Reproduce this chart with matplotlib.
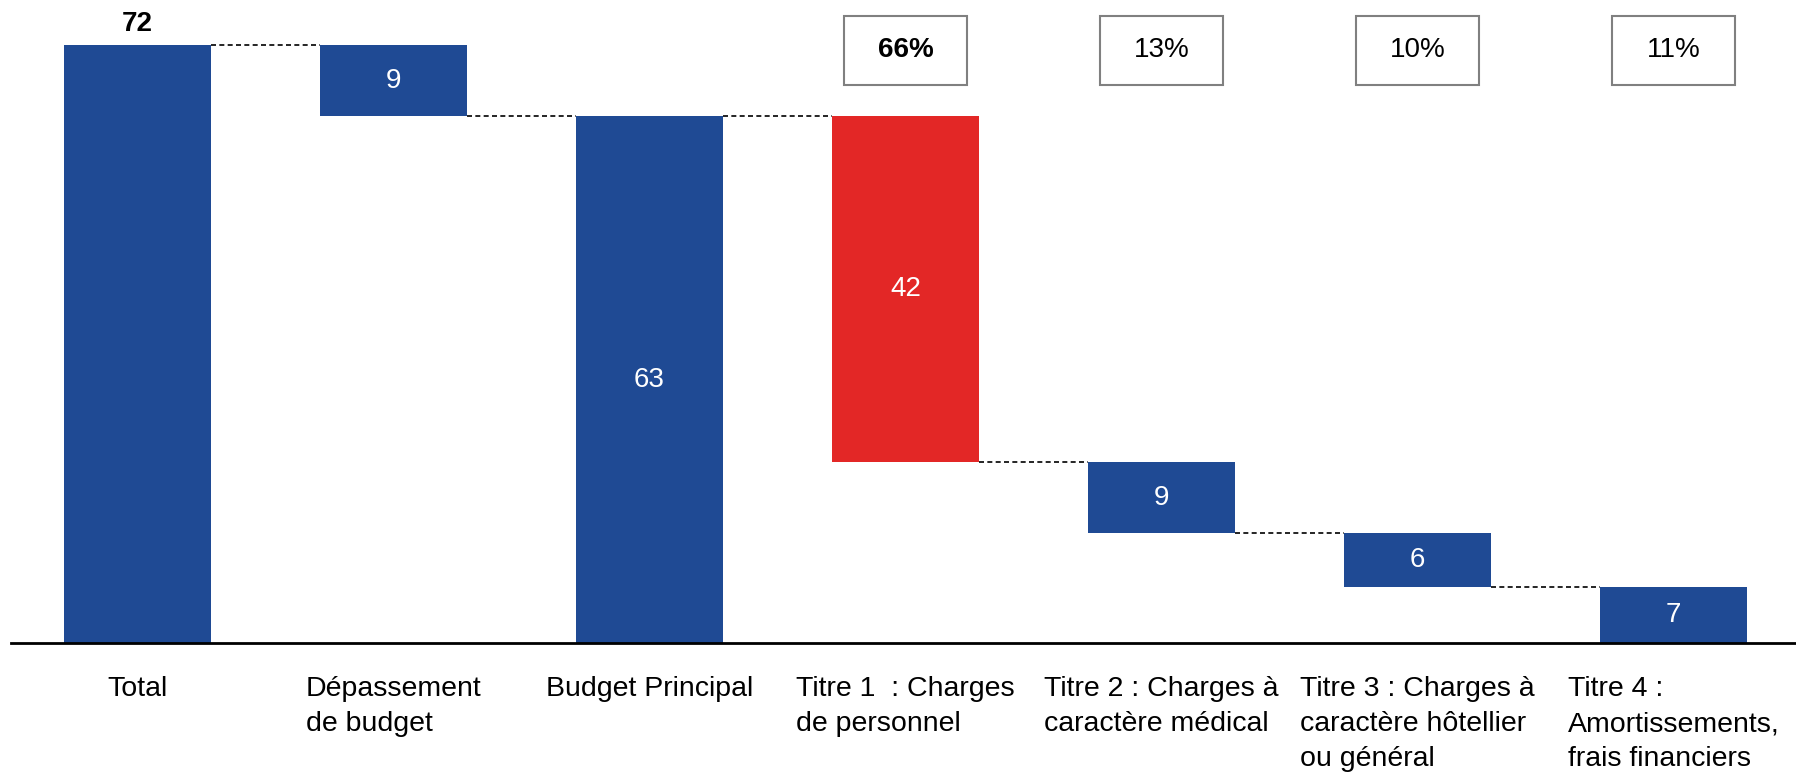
import matplotlib
matplotlib.use("Agg")
from matplotlib import pyplot as plt
from matplotlib.patches import Rectangle

plt.rcParams['font.family'] = ['Liberation Sans', 'DejaVu Sans']

categories = ["Total", "Dépassement\nde budget", "Budget Principal",
              "Titre 1  : Charges\nde personnel", "Titre 2 : Charges à\ncaractère médical",
              "Titre 3 : Charges à\ncaractère hôtellier\nou général",
              "Titre 4 :\nAmortissements,\nfrais financiers"]
# bar heights
values = [72.0, 8.6, 63.4, 41.6, 8.6, 6.4, 6.8]
kinds = ["total", "down", "total", "down", "down", "down", "down"]
shares = [66, 13, 10, 11]  # % of Budget Principal, for Titre 1..4

blue = "#1F4A94"
red = "#E32726"
fs = 20

fig = plt.figure(figsize=(17.96, 7.75), dpi=100)
ax = fig.add_axes([11 / 1796, 132 / 775, 1785 / 1796, 643 / 775])

# waterfall: work out bottoms
bottoms = []
level = 0
for v, k in zip(values, kinds):
    if k == "total":
        bottoms.append(0)
        level = v
    else:
        level = level - v
        bottoms.append(level)

x = list(range(len(values)))
colors = [red if c.startswith("Titre 1") else blue for c in categories]
w = 0.575
ax.bar(x, values, width=w, bottom=bottoms, color=colors, zorder=2)

# value labels
for i, (v, b) in enumerate(zip(values, bottoms)):
    if i == 0:
        ax.text(i, v + 0.9, f"{v:.0f}", ha="center", va="bottom",
                fontsize=fs, fontweight="bold", color="black")
    else:
        ax.text(i, b + v / 2, f"{v:.0f}", ha="center", va="center",
                fontsize=fs, color="white")

# dashed connectors
tops = [b + v for b, v in zip(bottoms, values)]
for i in range(len(values) - 1):
    if kinds[i + 1] == "total":
        lvl = values[i + 1]
    elif kinds[i] == "total":
        lvl = tops[i]
    else:
        lvl = bottoms[i]
    ax.plot([i + w / 2, i + 1 - w / 2], [lvl, lvl], color="black",
            lw=1.2, ls=(0, (3, 2)), zorder=1)

# percentage boxes over the Titre bars
bw = 0.48
for j, s in enumerate(shares):
    xc = 3 + j
    ax.add_patch(Rectangle((xc - bw / 2, 67.2), bw, 8.3, facecolor="white",
                           edgecolor="#808080", lw=1.5, zorder=3))
    ax.text(xc, 71.35, f"{s}%", ha="center", va="center", fontsize=fs,
            fontweight="bold" if j == 0 else "normal", zorder=4)

# category labels under the axis
for i, c in enumerate(categories):
    ax.text(i, -4.0, c, ha="center", va="top", multialignment="left",
            fontsize=20.5, linespacing=1.45)

ax.set_xlim((11 - 137.5) / 256, (1796 - 137.5) / 256)
ax.set_ylim(0, 77.4)
for sp in ["top", "left", "right"]:
    ax.spines[sp].set_visible(False)
ax.spines["bottom"].set_linewidth(2)
ax.set_xticks([])
ax.set_yticks([])

plt.savefig("out.png", dpi=100)
